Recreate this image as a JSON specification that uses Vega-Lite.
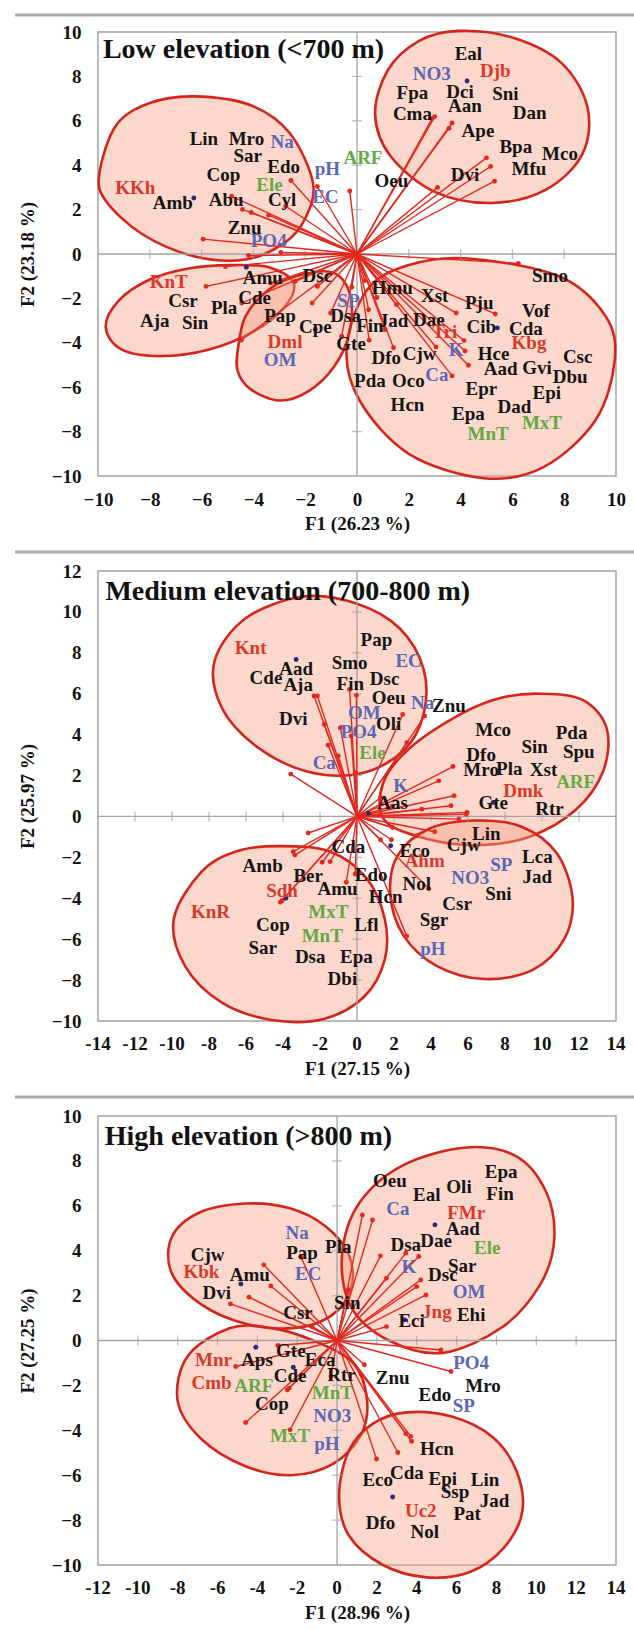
{
"$schema": "https://vega.github.io/schema/vega-lite/v6.json",
"padding": {"left": 12, "top": 12, "right": 0, "bottom": 0},
"background": "white",
"spacing": 95,
"bounds": "flush",
"resolve": {"scale": {"x": "independent", "y": "independent"}},
"config": {
 "view": {"stroke": "#a3a3a3", "strokeWidth": 1.5},
 "font": "Liberation Serif",
 "axis": {"labelOverlap": false, "labelFlush": false}
},
"datasets": {
 "tk": [{"v":-14},{"v":-12},{"v":-10},{"v":-8},{"v":-6},{"v":-4},{"v":-2},{"v":0},{"v":2},{"v":4},{"v":6},{"v":8},{"v":10},{"v":12},{"v":14}],
 "p1lab": [
  {"n":"Eal","x":4.3,"y":9.03,"t":"s"},{"n":"NO3","x":2.89,"y":8.13,"t":"b"},{"n":"Djb","x":5.34,"y":8.24,"t":"r"},
  {"n":"Fpa","x":2.14,"y":7.27,"t":"s"},{"n":"Dci","x":3.98,"y":7.3,"t":"s"},{"n":"Sni","x":5.73,"y":7.19,"t":"s"},
  {"n":"Aan","x":4.17,"y":6.67,"t":"s"},{"n":"Cma","x":2.14,"y":6.3,"t":"s"},{"n":"Dan","x":6.67,"y":6.37,"t":"s"},
  {"n":"Ape","x":4.67,"y":5.55,"t":"s"},{"n":"Bpa","x":6.13,"y":4.81,"t":"s"},{"n":"Mco","x":7.84,"y":4.51,"t":"s"},
  {"n":"Mfu","x":6.64,"y":3.81,"t":"s"},{"n":"Dvi","x":4.17,"y":3.54,"t":"s"},{"n":"Oeu","x":1.33,"y":3.27,"t":"s"},
  {"n":"Lin","x":-5.91,"y":5.18,"t":"s"},{"n":"Mro","x":-4.27,"y":5.18,"t":"s"},{"n":"Na","x":-2.89,"y":5.06,"t":"b"},
  {"n":"Sar","x":-4.22,"y":4.4,"t":"s"},{"n":"ARF","x":0.23,"y":4.31,"t":"g"},{"n":"Edo","x":-2.83,"y":3.91,"t":"s"},
  {"n":"pH","x":-1.14,"y":3.81,"t":"b"},{"n":"Cop","x":-5.16,"y":3.57,"t":"s"},{"n":"KKh","x":-8.56,"y":2.99,"t":"r"},
  {"n":"Ele","x":-3.38,"y":3.09,"t":"g"},{"n":"Amb","x":-7.11,"y":2.3,"t":"s"},{"n":"Abu","x":-5.05,"y":2.45,"t":"s"},
  {"n":"Cyl","x":-2.89,"y":2.45,"t":"s"},{"n":"EC","x":-1.22,"y":2.57,"t":"b"},{"n":"Znu","x":-4.34,"y":1.15,"t":"s"},
  {"n":"PO4","x":-3.41,"y":0.6,"t":"b"},{"n":"Smo","x":7.45,"y":-1.01,"t":"s"},{"n":"KnT","x":-7.27,"y":-1.24,"t":"r"},
  {"n":"Amu","x":-3.64,"y":-1.09,"t":"s"},{"n":"Dsc","x":-1.53,"y":-1.0,"t":"s"},{"n":"Hmu","x":1.36,"y":-1.51,"t":"s"},
  {"n":"Xst","x":3.0,"y":-1.87,"t":"s"},{"n":"Pju","x":4.72,"y":-2.21,"t":"s"},{"n":"Csr","x":-6.72,"y":-2.13,"t":"s"},
  {"n":"Pla","x":-5.13,"y":-2.43,"t":"s"},{"n":"Cde","x":-3.95,"y":-1.96,"t":"s"},{"n":"Aja","x":-7.81,"y":-3.03,"t":"s"},
  {"n":"Sin","x":-6.25,"y":-3.13,"t":"s"},{"n":"Pap","x":-2.97,"y":-2.81,"t":"s"},{"n":"Cpe","x":-1.61,"y":-3.3,"t":"s"},
  {"n":"SP","x":-0.33,"y":-2.1,"t":"b"},{"n":"Dsa","x":-0.44,"y":-2.81,"t":"s"},{"n":"Fin","x":0.5,"y":-3.25,"t":"s"},
  {"n":"Jad","x":1.41,"y":-3.03,"t":"s"},{"n":"Dae","x":2.77,"y":-2.96,"t":"s"},{"n":"Tri","x":3.39,"y":-3.51,"t":"r"},
  {"n":"Vof","x":6.91,"y":-2.55,"t":"s"},{"n":"Cib","x":4.8,"y":-3.3,"t":"s"},{"n":"Cda","x":6.52,"y":-3.36,"t":"s"},
  {"n":"Dml","x":-2.78,"y":-3.96,"t":"r"},{"n":"Kbg","x":6.64,"y":-4.0,"t":"r"},{"n":"Gte","x":-0.23,"y":-4.07,"t":"s"},
  {"n":"OM","x":-2.97,"y":-4.79,"t":"b"},{"n":"Dfo","x":1.13,"y":-4.7,"t":"s"},{"n":"Cjw","x":2.42,"y":-4.52,"t":"s"},
  {"n":"K","x":3.83,"y":-4.34,"t":"b"},{"n":"Hce","x":5.27,"y":-4.52,"t":"s"},{"n":"Csc","x":8.52,"y":-4.64,"t":"s"},
  {"n":"Aad","x":5.55,"y":-5.19,"t":"s"},{"n":"Gvi","x":6.95,"y":-5.12,"t":"s"},{"n":"Dbu","x":8.23,"y":-5.54,"t":"s"},
  {"n":"Ca","x":3.08,"y":-5.45,"t":"b"},{"n":"Pda","x":0.5,"y":-5.72,"t":"s"},{"n":"Oco","x":1.98,"y":-5.72,"t":"s"},
  {"n":"Epr","x":4.8,"y":-6.09,"t":"s"},{"n":"Epi","x":7.33,"y":-6.28,"t":"s"},{"n":"Hcn","x":1.95,"y":-6.79,"t":"s"},
  {"n":"Dad","x":6.08,"y":-6.87,"t":"s"},{"n":"Epa","x":4.3,"y":-7.21,"t":"s"},{"n":"MxT","x":7.14,"y":-7.63,"t":"g"},
  {"n":"MnT","x":5.06,"y":-8.1,"t":"g"}
 ],
 "p1vec": [
  {"x":3.0,"y":6.19},{"x":2.9,"y":6.1},{"x":3.67,"y":5.9},{"x":3.55,"y":5.66},{"x":5.0,"y":4.33},{"x":5.16,"y":3.94},
  {"x":5.31,"y":3.28},{"x":3.11,"y":3.0},{"x":-0.28,"y":2.84},{"x":-2.55,"y":3.31},{"x":-1.53,"y":3.04},{"x":-4.84,"y":2.6},
  {"x":-4.42,"y":2.01},{"x":-4.08,"y":1.87},{"x":-3.41,"y":1.75},{"x":-2.75,"y":2.15},{"x":-5.94,"y":0.67},{"x":-4.19,"y":-0.07},
  {"x":-2.94,"y":0.07},{"x":-5.83,"y":-1.46},{"x":-5.08,"y":-0.57},{"x":-4.47,"y":-3.88},{"x":-4.45,"y":-2.21},{"x":-3.33,"y":-1.31},
  {"x":-2.39,"y":-1.24},{"x":-1.53,"y":-1.46},{"x":-1.73,"y":-2.21},{"x":-1.02,"y":-2.66},{"x":-0.59,"y":-3.7},{"x":0.45,"y":-2.51},
  {"x":1.08,"y":-3.4},{"x":0.47,"y":-3.88},{"x":1.41,"y":-4.22},{"x":0.77,"y":-1.96},{"x":1.52,"y":-2.28},{"x":3.05,"y":-4.19},
  {"x":3.83,"y":-2.66},{"x":4.13,"y":-3.9},{"x":4.17,"y":-4.37},{"x":4.3,"y":-5.01},{"x":3.67,"y":-5.49},{"x":5.34,"y":-2.7},
  {"x":6.23,"y":-0.42},{"x":-0.2,"y":-1.5},{"x":0.3,"y":-1.2}
 ],
 "p1dot": [{"x":4.25,"y":7.79},{"x":-6.3,"y":2.52},{"x":-4.27,"y":-0.6},{"x":-1.61,"y":-3.4},{"x":5.42,"y":-3.33}],
 "p1ell": [
  {"e":1,"i":1,"x":3.9,"y":10.05},{"e":1,"i":2,"x":6.0,"y":9.75},{"e":1,"i":3,"x":7.9,"y":8.6},{"e":1,"i":4,"x":8.9,"y":6.6},
  {"e":1,"i":5,"x":8.7,"y":4.5},{"e":1,"i":6,"x":7.3,"y":2.9},{"e":1,"i":7,"x":5.2,"y":2.3},{"e":1,"i":8,"x":3.0,"y":2.8},
  {"e":1,"i":9,"x":1.3,"y":4.4},{"e":1,"i":10,"x":0.7,"y":6.3},{"e":1,"i":11,"x":1.2,"y":8.3},{"e":1,"i":12,"x":2.4,"y":9.6},
  {"e":2,"i":1,"x":-6.3,"y":7.1},{"e":2,"i":2,"x":-4.1,"y":6.7},{"e":2,"i":3,"x":-2.6,"y":5.45},{"e":2,"i":4,"x":-1.7,"y":3.2},
  {"e":2,"i":5,"x":-2.0,"y":1.6},{"e":2,"i":6,"x":-2.8,"y":0.5},{"e":2,"i":7,"x":-4.3,"y":-0.25},{"e":2,"i":8,"x":-6.3,"y":-0.1},
  {"e":2,"i":9,"x":-8.3,"y":0.9},{"e":2,"i":10,"x":-9.7,"y":2.4},{"e":2,"i":11,"x":-9.95,"y":3.6},{"e":2,"i":12,"x":-9.3,"y":5.8},
  {"e":2,"i":13,"x":-8.0,"y":6.8},
  {"e":3,"i":1,"x":-9.7,"y":-3.3},{"e":3,"i":2,"x":-9.2,"y":-2.1},{"e":3,"i":3,"x":-8.0,"y":-1.15},{"e":3,"i":4,"x":-6.5,"y":-0.65},
  {"e":3,"i":5,"x":-4.9,"y":-0.5},{"e":3,"i":6,"x":-3.4,"y":-0.6},{"e":3,"i":7,"x":-2.45,"y":-1.3},{"e":3,"i":8,"x":-2.8,"y":-2.4},
  {"e":3,"i":9,"x":-4.0,"y":-3.5},{"e":3,"i":10,"x":-5.7,"y":-4.3},{"e":3,"i":11,"x":-7.6,"y":-4.6},{"e":3,"i":12,"x":-9.1,"y":-4.3},
  {"e":4,"i":1,"x":-4.6,"y":-4.3},{"e":4,"i":2,"x":-4.3,"y":-2.8},{"e":4,"i":3,"x":-3.4,"y":-1.6},{"e":4,"i":4,"x":-2.2,"y":-0.95},
  {"e":4,"i":5,"x":-0.9,"y":-0.85},{"e":4,"i":6,"x":-0.25,"y":-1.9},{"e":4,"i":7,"x":-0.3,"y":-3.6},{"e":4,"i":8,"x":-0.9,"y":-5.1},
  {"e":4,"i":9,"x":-1.9,"y":-6.2},{"e":4,"i":10,"x":-3.0,"y":-6.6},{"e":4,"i":11,"x":-4.1,"y":-6.1},{"e":4,"i":12,"x":-4.6,"y":-5.3},
  {"e":5,"i":1,"x":4.3,"y":-0.2},{"e":5,"i":2,"x":7.8,"y":-1.0},{"e":5,"i":3,"x":9.6,"y":-2.8},{"e":5,"i":4,"x":9.95,"y":-4.8},
  {"e":5,"i":5,"x":9.2,"y":-7.5},{"e":5,"i":6,"x":7.2,"y":-9.6},{"e":5,"i":7,"x":4.9,"y":-10.1},{"e":5,"i":8,"x":2.0,"y":-9.0},
  {"e":5,"i":9,"x":0.1,"y":-6.6},{"e":5,"i":10,"x":-0.4,"y":-4.2},{"e":5,"i":11,"x":0.4,"y":-1.6},{"e":5,"i":12,"x":2.0,"y":-0.5}
 ],
 "p2lab": [
  {"n":"Knt","x":-5.75,"y":8.24,"t":"r"},{"n":"Pap","x":1.05,"y":8.65,"t":"s"},{"n":"Aad","x":-3.29,"y":7.22,"t":"s"},
  {"n":"Smo","x":-0.4,"y":7.51,"t":"s"},{"n":"EC","x":2.79,"y":7.59,"t":"b"},{"n":"Cde","x":-4.92,"y":6.78,"t":"s"},
  {"n":"Aja","x":-3.18,"y":6.41,"t":"s"},{"n":"Fin","x":-0.36,"y":6.46,"t":"s"},{"n":"Dsc","x":1.49,"y":6.7,"t":"s"},
  {"n":"Oeu","x":1.71,"y":5.8,"t":"s"},{"n":"Na","x":3.55,"y":5.56,"t":"b"},{"n":"Znu","x":4.97,"y":5.4,"t":"s"},
  {"n":"OM","x":0.4,"y":5.07,"t":"b"},{"n":"Dvi","x":-3.45,"y":4.75,"t":"s"},{"n":"Oli","x":1.71,"y":4.5,"t":"s"},
  {"n":"PO4","x":0.08,"y":4.13,"t":"b"},{"n":"Mco","x":7.36,"y":4.23,"t":"s"},{"n":"Pda","x":11.6,"y":4.07,"t":"s"},
  {"n":"Sin","x":9.6,"y":3.41,"t":"s"},{"n":"Spu","x":11.99,"y":3.15,"t":"s"},{"n":"Ele","x":0.84,"y":3.12,"t":"g"},
  {"n":"Dfo","x":6.71,"y":2.99,"t":"s"},{"n":"Ca","x":-1.77,"y":2.63,"t":"b"},{"n":"Mro","x":6.71,"y":2.26,"t":"s"},
  {"n":"Pla","x":8.23,"y":2.34,"t":"s"},{"n":"Xst","x":10.08,"y":2.28,"t":"s"},{"n":"ARF","x":11.82,"y":1.69,"t":"g"},
  {"n":"K","x":2.36,"y":1.5,"t":"b"},{"n":"Dmk","x":8.99,"y":1.25,"t":"r"},{"n":"Aas","x":1.92,"y":0.68,"t":"s"},
  {"n":"Gte","x":7.36,"y":0.68,"t":"s"},{"n":"Rtr","x":10.4,"y":0.36,"t":"s"},
  {"n":"Lin","x":6.99,"y":-0.86,"t":"s"},{"n":"Cjw","x":5.77,"y":-1.4,"t":"s"},{"n":"Cda","x":-0.47,"y":-1.51,"t":"s"},
  {"n":"Eco","x":3.12,"y":-1.67,"t":"s"},{"n":"Lca","x":9.75,"y":-2.0,"t":"s"},{"n":"Amb","x":-5.1,"y":-2.44,"t":"s"},
  {"n":"Ahm","x":3.66,"y":-2.16,"t":"r"},{"n":"SP","x":7.8,"y":-2.37,"t":"b"},{"n":"Jad","x":9.75,"y":-2.94,"t":"s"},
  {"n":"Ber","x":-2.64,"y":-2.89,"t":"s"},{"n":"Edo","x":0.77,"y":-2.86,"t":"s"},{"n":"NO3","x":6.12,"y":-3.02,"t":"b"},
  {"n":"Nol","x":3.23,"y":-3.3,"t":"s"},{"n":"Sdh","x":-4.05,"y":-3.63,"t":"r"},{"n":"Amu","x":-1.05,"y":-3.54,"t":"s"},
  {"n":"Sni","x":7.64,"y":-3.79,"t":"s"},{"n":"Hcn","x":1.55,"y":-3.95,"t":"s"},{"n":"KnR","x":-7.92,"y":-4.68,"t":"r"},
  {"n":"MxT","x":-1.55,"y":-4.65,"t":"g"},{"n":"Csr","x":5.41,"y":-4.28,"t":"s"},{"n":"Cop","x":-4.55,"y":-5.3,"t":"s"},
  {"n":"Lfl","x":0.51,"y":-5.33,"t":"s"},{"n":"Sgr","x":4.16,"y":-5.04,"t":"s"},{"n":"MnT","x":-1.88,"y":-5.85,"t":"g"},
  {"n":"Sar","x":-5.1,"y":-6.44,"t":"s"},{"n":"pH","x":4.1,"y":-6.47,"t":"b"},{"n":"Dsa","x":-2.53,"y":-6.88,"t":"s"},
  {"n":"Epa","x":-0.03,"y":-6.88,"t":"s"},{"n":"Dbi","x":-0.79,"y":-7.97,"t":"s"}
 ],
 "p2vec": [
  {"x":-2.32,"y":5.89},{"x":-2.14,"y":5.89},{"x":-0.4,"y":6.21},{"x":-0.03,"y":5.92},{"x":2.47,"y":4.99},{"x":3.66,"y":4.91},
  {"x":-1.77,"y":4.5},{"x":-1.56,"y":3.48},{"x":-1.01,"y":2.96},{"x":-0.9,"y":4.34},{"x":-0.32,"y":3.93},{"x":-3.58,"y":2.07},
  {"x":-0.1,"y":2.15},{"x":2.69,"y":3.61},{"x":5.19,"y":2.44},{"x":4.42,"y":1.74},{"x":5.25,"y":1.01},{"x":1.27,"y":0.93},
  {"x":5.08,"y":0.52},{"x":5.95,"y":0.2},{"x":1.9,"y":0.5},{"x":3.5,"y":0.35},
  {"x":-2.64,"y":-0.81},{"x":-3.45,"y":-1.72},{"x":-3.36,"y":-1.89},{"x":-1.88,"y":-2.24},{"x":-1.45,"y":-2.21},{"x":-0.58,"y":-3.22},
  {"x":-4.05,"y":-4.11},{"x":-4.15,"y":-4.2},{"x":-0.1,"y":-2.81},{"x":1.92,"y":-0.54},{"x":1.27,"y":-1.14},{"x":1.86,"y":-1.14},
  {"x":4.2,"y":-0.75},{"x":3.23,"y":-0.94},{"x":3.88,"y":-3.54},{"x":2.69,"y":-5.85},{"x":5.51,"y":-0.13},{"x":5.9,"y":0.11}
 ],
 "p2dot": [{"x":-3.29,"y":7.67},{"x":0.62,"y":0.16},{"x":7.36,"y":0.68},{"x":1.82,"y":-1.43},{"x":-3.84,"y":-4.0}],
 "p2ell": [
  {"e":1,"i":1,"x":-2.9,"y":10.75},{"e":1,"i":2,"x":0.0,"y":10.4},{"e":1,"i":3,"x":2.3,"y":9.2},{"e":1,"i":4,"x":3.6,"y":7.2},
  {"e":1,"i":5,"x":3.6,"y":5.0},{"e":1,"i":6,"x":2.5,"y":3.2},{"e":1,"i":7,"x":0.2,"y":2.1},{"e":1,"i":8,"x":-2.7,"y":2.2},
  {"e":1,"i":9,"x":-5.4,"y":3.4},{"e":1,"i":10,"x":-7.3,"y":5.3},{"e":1,"i":11,"x":-7.7,"y":7.6},{"e":1,"i":12,"x":-6.0,"y":9.7},
  {"e":2,"i":1,"x":9.9,"y":6.0},{"e":2,"i":2,"x":12.2,"y":5.7},{"e":2,"i":3,"x":13.5,"y":4.3},{"e":2,"i":4,"x":13.3,"y":2.2},
  {"e":2,"i":5,"x":11.8,"y":0.3},{"e":2,"i":6,"x":9.3,"y":-1.0},{"e":2,"i":7,"x":6.5,"y":-1.4},{"e":2,"i":8,"x":3.8,"y":-1.1},
  {"e":2,"i":9,"x":1.5,"y":-0.2},{"e":2,"i":10,"x":1.4,"y":1.6},{"e":2,"i":11,"x":2.8,"y":3.3},{"e":2,"i":12,"x":5.6,"y":5.0},
  {"e":2,"i":13,"x":7.8,"y":5.8},
  {"e":3,"i":1,"x":6.4,"y":-0.2},{"e":3,"i":2,"x":8.9,"y":-0.5},{"e":3,"i":3,"x":10.8,"y":-1.8},{"e":3,"i":4,"x":11.65,"y":-4.0},
  {"e":3,"i":5,"x":11.2,"y":-6.0},{"e":3,"i":6,"x":9.5,"y":-7.5},{"e":3,"i":7,"x":6.9,"y":-7.95},{"e":3,"i":8,"x":4.3,"y":-7.3},
  {"e":3,"i":9,"x":2.5,"y":-5.8},{"e":3,"i":10,"x":1.8,"y":-3.8},{"e":3,"i":11,"x":2.2,"y":-1.9},{"e":3,"i":12,"x":3.9,"y":-0.6},
  {"e":4,"i":1,"x":-4.2,"y":-1.45},{"e":4,"i":2,"x":-1.5,"y":-1.7},{"e":4,"i":3,"x":0.5,"y":-3.0},{"e":4,"i":4,"x":1.5,"y":-5.0},
  {"e":4,"i":5,"x":1.5,"y":-7.0},{"e":4,"i":6,"x":0.4,"y":-8.8},{"e":4,"i":7,"x":-1.8,"y":-9.9},{"e":4,"i":8,"x":-4.6,"y":-9.95},
  {"e":4,"i":9,"x":-7.3,"y":-9.1},{"e":4,"i":10,"x":-9.3,"y":-7.3},{"e":4,"i":11,"x":-9.9,"y":-5.0},{"e":4,"i":12,"x":-8.4,"y":-2.7},
  {"e":4,"i":13,"x":-6.5,"y":-1.7}
 ],
 "p3lab": [
  {"n":"Epa","x":8.24,"y":7.52,"t":"s"},{"n":"Oeu","x":2.65,"y":7.12,"t":"s"},{"n":"Eal","x":4.5,"y":6.48,"t":"s"},
  {"n":"Oli","x":6.12,"y":6.85,"t":"s"},{"n":"Fin","x":8.18,"y":6.53,"t":"s"},{"n":"Ca","x":3.05,"y":5.85,"t":"b"},
  {"n":"FMr","x":6.48,"y":5.7,"t":"r"},{"n":"Aad","x":6.32,"y":4.96,"t":"s"},{"n":"Na","x":-2.0,"y":4.81,"t":"b"},
  {"n":"Pla","x":0.06,"y":4.15,"t":"s"},{"n":"Pap","x":-1.76,"y":3.89,"t":"s"},{"n":"Dsa","x":3.45,"y":4.26,"t":"s"},
  {"n":"Dae","x":4.97,"y":4.41,"t":"s"},{"n":"Ele","x":7.54,"y":4.11,"t":"g"},{"n":"Cjw","x":-6.5,"y":3.81,"t":"s"},
  {"n":"Kbk","x":-6.81,"y":3.03,"t":"r"},{"n":"Amu","x":-4.38,"y":2.92,"t":"s"},{"n":"EC","x":-1.45,"y":2.97,"t":"b"},
  {"n":"K","x":3.6,"y":3.29,"t":"b"},{"n":"Sar","x":6.28,"y":3.32,"t":"s"},{"n":"Dsc","x":5.31,"y":2.92,"t":"s"},
  {"n":"Dvi","x":-6.04,"y":2.11,"t":"s"},{"n":"OM","x":6.63,"y":2.14,"t":"b"},{"n":"Sin","x":0.51,"y":1.66,"t":"s"},
  {"n":"Csr","x":-1.96,"y":1.22,"t":"s"},{"n":"Jng","x":5.01,"y":1.29,"t":"r"},{"n":"Ehi","x":6.73,"y":1.14,"t":"s"},
  {"n":"Eci","x":3.74,"y":0.89,"t":"s"},{"n":"Mnr","x":-6.2,"y":-0.86,"t":"r"},{"n":"Aps","x":-4.02,"y":-0.86,"t":"s"},
  {"n":"Gte","x":-2.32,"y":-0.45,"t":"s"},{"n":"Eca","x":-0.85,"y":-0.86,"t":"s"},{"n":"PO4","x":6.73,"y":-0.98,"t":"b"},
  {"n":"Cde","x":-2.36,"y":-1.57,"t":"s"},{"n":"Rtr","x":0.22,"y":-1.53,"t":"s"},{"n":"Znu","x":2.79,"y":-1.68,"t":"s"},
  {"n":"Cmb","x":-6.3,"y":-1.9,"t":"r"},{"n":"ARF","x":-4.18,"y":-2.02,"t":"g"},{"n":"Mro","x":7.33,"y":-2.02,"t":"s"},
  {"n":"MnT","x":-0.24,"y":-2.34,"t":"g"},{"n":"Edo","x":4.91,"y":-2.42,"t":"s"},{"n":"Cop","x":-3.27,"y":-2.82,"t":"s"},
  {"n":"SP","x":6.36,"y":-2.91,"t":"b"},{"n":"NO3","x":-0.24,"y":-3.35,"t":"b"},{"n":"MxT","x":-2.36,"y":-4.24,"t":"g"},
  {"n":"pH","x":-0.51,"y":-4.6,"t":"b"},{"n":"Hcn","x":5.01,"y":-4.84,"t":"s"},{"n":"Eco","x":2.04,"y":-6.2,"t":"s"},
  {"n":"Cda","x":3.5,"y":-5.9,"t":"s"},{"n":"Epi","x":5.31,"y":-6.17,"t":"s"},{"n":"Lin","x":7.43,"y":-6.23,"t":"s"},
  {"n":"Ssp","x":5.92,"y":-6.77,"t":"s"},{"n":"Jad","x":7.9,"y":-7.17,"t":"s"},{"n":"Uc2","x":4.2,"y":-7.61,"t":"r"},
  {"n":"Pat","x":6.53,"y":-7.71,"t":"s"},{"n":"Dfo","x":2.18,"y":-8.13,"t":"s"},{"n":"Nol","x":4.4,"y":-8.55,"t":"s"}
 ],
 "p3vec": [
  {"x":1.27,"y":5.59},{"x":1.78,"y":5.37},{"x":2.18,"y":3.77},{"x":2.48,"y":2.77},{"x":3.45,"y":3.89},{"x":4.1,"y":3.74},
  {"x":4.2,"y":2.7},{"x":4.0,"y":2.4},{"x":4.46,"y":2.03},{"x":2.48,"y":0.62},{"x":5.21,"y":-0.42},{"x":5.72,"y":-1.38},
  {"x":-1.8,"y":3.71},{"x":-3.68,"y":3.37},{"x":-3.33,"y":2.43},{"x":-4.42,"y":1.93},{"x":-5.35,"y":1.63},{"x":-1.25,"y":0.62},
  {"x":-2.97,"y":-0.22},{"x":-5.09,"y":-1.16},{"x":1.37,"y":-1.08},{"x":-2.4,"y":-2.12},{"x":-2.5,"y":-2.2},{"x":-4.59,"y":-3.65},
  {"x":-2.36,"y":-3.98},{"x":3.45,"y":-4.15},{"x":3.7,"y":-4.27},{"x":3.74,"y":-4.49},{"x":3.05,"y":-4.99},{"x":1.98,"y":-5.28},
  {"x":0.57,"y":2.26},{"x":-0.3,"y":-1.6}
 ],
 "p3dot": [{"x":-4.83,"y":2.52},{"x":4.91,"y":5.15},{"x":3.39,"y":0.92},{"x":-4.08,"y":-0.3},{"x":-2.2,"y":-1.19},{"x":2.79,"y":-6.97}],
 "p3ell": [
  {"e":1,"i":1,"x":-4.6,"y":6.1},{"e":1,"i":2,"x":-2.4,"y":5.9},{"e":1,"i":3,"x":-0.6,"y":5.1},{"e":1,"i":4,"x":0.6,"y":3.8},
  {"e":1,"i":5,"x":0.7,"y":2.3},{"e":1,"i":6,"x":-0.3,"y":1.1},{"e":1,"i":7,"x":-2.2,"y":0.55},{"e":1,"i":8,"x":-4.6,"y":0.75},
  {"e":1,"i":9,"x":-6.8,"y":1.6},{"e":1,"i":10,"x":-8.3,"y":3.0},{"e":1,"i":11,"x":-8.3,"y":4.6},{"e":1,"i":12,"x":-6.9,"y":5.7},
  {"e":2,"i":1,"x":6.5,"y":8.6},{"e":2,"i":2,"x":9.0,"y":8.2},{"e":2,"i":3,"x":10.5,"y":6.6},{"e":2,"i":4,"x":10.9,"y":4.5},
  {"e":2,"i":5,"x":10.2,"y":2.5},{"e":2,"i":6,"x":8.3,"y":0.6},{"e":2,"i":7,"x":5.3,"y":-0.55},{"e":2,"i":8,"x":2.6,"y":0.0},
  {"e":2,"i":9,"x":0.7,"y":1.5},{"e":2,"i":10,"x":0.25,"y":3.8},{"e":2,"i":11,"x":1.1,"y":6.1},{"e":2,"i":12,"x":3.3,"y":7.8},
  {"e":3,"i":1,"x":-5.4,"y":0.55},{"e":3,"i":2,"x":-3.3,"y":0.55},{"e":3,"i":3,"x":-1.2,"y":0.0},{"e":3,"i":4,"x":0.8,"y":-1.0},
  {"e":3,"i":5,"x":1.5,"y":-2.6},{"e":3,"i":6,"x":1.2,"y":-4.2},{"e":3,"i":7,"x":-0.2,"y":-5.5},{"e":3,"i":8,"x":-2.3,"y":-6.0},
  {"e":3,"i":9,"x":-4.6,"y":-5.6},{"e":3,"i":10,"x":-6.8,"y":-4.4},{"e":3,"i":11,"x":-8.0,"y":-2.7},{"e":3,"i":12,"x":-7.5,"y":-0.7},
  {"e":4,"i":1,"x":3.5,"y":-3.2},{"e":4,"i":2,"x":5.8,"y":-3.4},{"e":4,"i":3,"x":7.8,"y":-4.3},{"e":4,"i":4,"x":9.0,"y":-5.8},
  {"e":4,"i":5,"x":9.3,"y":-7.6},{"e":4,"i":6,"x":8.4,"y":-9.2},{"e":4,"i":7,"x":6.7,"y":-10.3},{"e":4,"i":8,"x":4.5,"y":-10.55},
  {"e":4,"i":9,"x":2.3,"y":-10.0},{"e":4,"i":10,"x":0.6,"y":-8.7},{"e":4,"i":11,"x":0.1,"y":-6.9},{"e":4,"i":12,"x":0.6,"y":-4.9},
  {"e":4,"i":13,"x":1.8,"y":-3.7}
 ]
},
"vconcat": [
 {
  "width": 518, "height": 444,
  "layer": [
   {"data": {"name": "p1ell"}, "mark": {"type": "line", "interpolate": "cardinal-closed", "fill": "#f5a284", "fillOpacity": 0.42, "stroke": "#d4251c", "strokeWidth": 2.6, "clip": false},
    "encoding": {"x": {"field": "x", "type": "quantitative", "scale": {"domain": [-10, 10], "nice": false, "zero": false}, "axis": {"title": "F1 (26.23 %)", "values": [-10,-8,-6,-4,-2,0,2,4,6,8,10], "grid": false, "domain": false, "ticks": false, "tickSize": 0, "labelFont": "Liberation Serif", "labelFontWeight": "bold", "labelFontSize": 19, "labelColor": "#111111", "titleFont": "Liberation Serif", "titleFontWeight": "bold", "titleFontSize": 19, "titleColor": "#111111", "labelOverlap": false, "labelFlush": false, "labelPadding": 14, "titlePadding": 5}},
     "y": {"field": "y", "type": "quantitative", "scale": {"domain": [-10, 10], "nice": false, "zero": false}, "axis": {"title": "F2 (23.18 %)", "values": [-10,-8,-6,-4,-2,0,2,4,6,8,10], "grid": false, "domain": false, "ticks": false, "tickSize": 0, "labelFont": "Liberation Serif", "labelFontWeight": "bold", "labelFontSize": 19, "labelColor": "#111111", "titleFont": "Liberation Serif", "titleFontWeight": "bold", "titleFontSize": 19, "titleColor": "#111111", "labelOverlap": false, "labelFlush": false, "labelPadding": 17, "titlePadding": 14}},
     "detail": {"field": "e"}, "order": {"field": "i"}}},
   {"data": {"values": [{}]}, "mark": {"type": "rule", "color": "#a3a3a3", "strokeWidth": 1.3},
    "encoding": {"x": {"datum": 0, "type": "quantitative"}}},
   {"data": {"values": [{}]}, "mark": {"type": "rule", "color": "#a3a3a3", "strokeWidth": 1.3},
    "encoding": {"y": {"datum": 0, "type": "quantitative"}}},
   {"data": {"name": "tk"}, "transform": [{"filter": "datum.v != 0 && abs(datum.v) <= 8"}], "mark": {"type": "tick", "orient": "vertical", "color": "#a3a3a3", "size": 10, "thickness": 1.3},
    "encoding": {"x": {"field": "v", "type": "quantitative"}, "y": {"datum": 0, "type": "quantitative"}}},
   {"data": {"name": "tk"}, "transform": [{"filter": "datum.v != 0 && abs(datum.v) <= 8"}], "mark": {"type": "tick", "orient": "horizontal", "color": "#a3a3a3", "size": 10, "thickness": 1.3},
    "encoding": {"y": {"field": "v", "type": "quantitative"}, "x": {"datum": 0, "type": "quantitative"}}},
   {"data": {"name": "p1vec"}, "mark": {"type": "rule", "color": "#e2291f", "strokeWidth": 1.4},
    "encoding": {"x": {"field": "x", "type": "quantitative"}, "y": {"field": "y", "type": "quantitative"}, "x2": {"datum": 0}, "y2": {"datum": 0}}},
   {"data": {"name": "p1vec"}, "mark": {"type": "point", "filled": true, "color": "#e2291f", "size": 24, "opacity": 1},
    "encoding": {"x": {"field": "x", "type": "quantitative"}, "y": {"field": "y", "type": "quantitative"}}},
   {"data": {"name": "p1dot"}, "mark": {"type": "point", "filled": true, "color": "#2b2a78", "size": 24, "opacity": 1},
    "encoding": {"x": {"field": "x", "type": "quantitative"}, "y": {"field": "y", "type": "quantitative"}}},
   {"data": {"name": "p1lab"}, "mark": {"type": "text", "font": "Liberation Serif", "fontWeight": "bold", "fontSize": 19, "clip": false},
    "encoding": {"x": {"field": "x", "type": "quantitative"},
     "y": {"field": "y", "type": "quantitative"},
     "text": {"field": "n"},
     "color": {"field": "t", "type": "nominal", "scale": {"domain": ["s","b","g","r"], "range": ["#151515","#5a67b5","#64a846","#d8382b"]}, "legend": null}}},
   {"data": {"values": [{}]}, "mark": {"type": "text", "align": "left", "baseline": "middle", "font": "Liberation Serif", "fontWeight": "bold", "fontSize": 28, "color": "#111111"},
    "encoding": {"x": {"datum": -9.81, "type": "quantitative"}, "y": {"datum": 9.2, "type": "quantitative"}, "text": {"value": "Low elevation (<700 m)"}}},
   {"data": {"values": [{}]}, "mark": {"type": "rule", "color": "#a8a8a8", "strokeWidth": 3, "clip": false},
    "encoding": {"x": {"datum": -13.2, "type": "quantitative"}, "x2": {"datum": 10.81}, "y": {"datum": 10.77, "type": "quantitative"}}},
   {"data": {"values": [{}]}, "mark": {"type": "rule", "color": "#a8a8a8", "strokeWidth": 3, "clip": false},
    "encoding": {"x": {"datum": -13.2, "type": "quantitative"}, "x2": {"datum": 10.81}, "y": {"datum": -13.42, "type": "quantitative"}}}
  ]
 },
 {
  "width": 518, "height": 450,
  "layer": [
   {"data": {"name": "p2ell"}, "mark": {"type": "line", "interpolate": "cardinal-closed", "fill": "#f5a284", "fillOpacity": 0.42, "stroke": "#d4251c", "strokeWidth": 2.6, "clip": false},
    "encoding": {"x": {"field": "x", "type": "quantitative", "scale": {"domain": [-14, 14], "nice": false, "zero": false}, "axis": {"title": "F1 (27.15 %)", "labels": false, "grid": false, "domain": false, "ticks": false, "tickSize": 0, "titleFont": "Liberation Serif", "titleFontWeight": "bold", "titleFontSize": 19, "titleColor": "#111111", "titlePadding": 38}},
     "y": {"field": "y", "type": "quantitative", "scale": {"domain": [-10, 12], "nice": false, "zero": false}, "axis": {"title": "F2 (25.97 %)", "values": [-10,-8,-6,-4,-2,0,2,4,6,8,10,12], "grid": false, "domain": false, "ticks": false, "tickSize": 0, "labelFont": "Liberation Serif", "labelFontWeight": "bold", "labelFontSize": 19, "labelColor": "#111111", "titleFont": "Liberation Serif", "titleFontWeight": "bold", "titleFontSize": 19, "titleColor": "#111111", "labelOverlap": false, "labelFlush": false, "labelPadding": 17, "titlePadding": 14}},
     "detail": {"field": "e"}, "order": {"field": "i"}}},
   {"data": {"name": "tk"}, "mark": {"type": "text", "baseline": "top", "dy": 14, "font": "Liberation Serif", "fontWeight": "bold", "fontSize": 19, "color": "#111111", "clip": false},
    "encoding": {"x": {"field": "v", "type": "quantitative"}, "y": {"datum": -10, "type": "quantitative"}, "text": {"field": "v", "type": "nominal"}}},
   {"data": {"values": [{}]}, "mark": {"type": "rule", "color": "#a3a3a3", "strokeWidth": 1.3},
    "encoding": {"x": {"datum": 0, "type": "quantitative"}}},
   {"data": {"values": [{}]}, "mark": {"type": "rule", "color": "#a3a3a3", "strokeWidth": 1.3},
    "encoding": {"y": {"datum": 0, "type": "quantitative"}}},
   {"data": {"name": "tk"}, "transform": [{"filter": "datum.v != 0 && abs(datum.v) <= 12"}], "mark": {"type": "tick", "orient": "vertical", "color": "#a3a3a3", "size": 10, "thickness": 1.3},
    "encoding": {"x": {"field": "v", "type": "quantitative"}, "y": {"datum": 0, "type": "quantitative"}}},
   {"data": {"name": "tk"}, "transform": [{"filter": "datum.v != 0 && datum.v >= -8 && datum.v <= 10"}], "mark": {"type": "tick", "orient": "horizontal", "color": "#a3a3a3", "size": 10, "thickness": 1.3},
    "encoding": {"y": {"field": "v", "type": "quantitative"}, "x": {"datum": 0, "type": "quantitative"}}},
   {"data": {"name": "p2vec"}, "mark": {"type": "rule", "color": "#e2291f", "strokeWidth": 1.4},
    "encoding": {"x": {"field": "x", "type": "quantitative"}, "y": {"field": "y", "type": "quantitative"}, "x2": {"datum": 0}, "y2": {"datum": 0}}},
   {"data": {"name": "p2vec"}, "mark": {"type": "point", "filled": true, "color": "#e2291f", "size": 24, "opacity": 1},
    "encoding": {"x": {"field": "x", "type": "quantitative"}, "y": {"field": "y", "type": "quantitative"}}},
   {"data": {"name": "p2dot"}, "mark": {"type": "point", "filled": true, "color": "#2b2a78", "size": 24, "opacity": 1},
    "encoding": {"x": {"field": "x", "type": "quantitative"}, "y": {"field": "y", "type": "quantitative"}}},
   {"data": {"name": "p2lab"}, "mark": {"type": "text", "font": "Liberation Serif", "fontWeight": "bold", "fontSize": 19, "clip": false},
    "encoding": {"x": {"field": "x", "type": "quantitative"},
     "y": {"field": "y", "type": "quantitative"},
     "text": {"field": "n"},
     "color": {"field": "t", "type": "nominal", "scale": {"domain": ["s","b","g","r"], "range": ["#151515","#5a67b5","#64a846","#d8382b"]}, "legend": null}}},
   {"data": {"values": [{}]}, "mark": {"type": "text", "align": "left", "baseline": "middle", "font": "Liberation Serif", "fontWeight": "bold", "fontSize": 28, "color": "#111111"},
    "encoding": {"x": {"datum": -13.6, "type": "quantitative"}, "y": {"datum": 10.96, "type": "quantitative"}, "text": {"value": "Medium elevation (700-800 m)"}}}
  ]
 },
 {
  "width": 518, "height": 449,
  "layer": [
   {"data": {"name": "p3ell"}, "mark": {"type": "line", "interpolate": "cardinal-closed", "fill": "#f5a284", "fillOpacity": 0.42, "stroke": "#d4251c", "strokeWidth": 2.6, "clip": false},
    "encoding": {"x": {"field": "x", "type": "quantitative", "scale": {"domain": [-12, 14], "nice": false, "zero": false}, "axis": {"title": "F1 (28.96 %)", "labels": false, "grid": false, "domain": false, "ticks": false, "tickSize": 0, "titleFont": "Liberation Serif", "titleFontWeight": "bold", "titleFontSize": 19, "titleColor": "#111111", "titlePadding": 38}},
     "y": {"field": "y", "type": "quantitative", "scale": {"domain": [-10, 10], "nice": false, "zero": false}, "axis": {"title": "F2 (27.25 %)", "values": [-10,-8,-6,-4,-2,0,2,4,6,8,10], "grid": false, "domain": false, "ticks": false, "tickSize": 0, "labelFont": "Liberation Serif", "labelFontWeight": "bold", "labelFontSize": 19, "labelColor": "#111111", "titleFont": "Liberation Serif", "titleFontWeight": "bold", "titleFontSize": 19, "titleColor": "#111111", "labelOverlap": false, "labelFlush": false, "labelPadding": 17, "titlePadding": 14}},
     "detail": {"field": "e"}, "order": {"field": "i"}}},
   {"data": {"name": "tk"}, "transform": [{"filter": "datum.v >= -12"}], "mark": {"type": "text", "baseline": "top", "dy": 14, "font": "Liberation Serif", "fontWeight": "bold", "fontSize": 19, "color": "#111111", "clip": false},
    "encoding": {"x": {"field": "v", "type": "quantitative"}, "y": {"datum": -10, "type": "quantitative"}, "text": {"field": "v", "type": "nominal"}}},
   {"data": {"values": [{}]}, "mark": {"type": "rule", "color": "#a3a3a3", "strokeWidth": 1.3},
    "encoding": {"x": {"datum": 0, "type": "quantitative"}}},
   {"data": {"values": [{}]}, "mark": {"type": "rule", "color": "#a3a3a3", "strokeWidth": 1.3},
    "encoding": {"y": {"datum": 0, "type": "quantitative"}}},
   {"data": {"name": "tk"}, "transform": [{"filter": "datum.v != 0 && datum.v >= -10 && datum.v <= 12"}], "mark": {"type": "tick", "orient": "vertical", "color": "#a3a3a3", "size": 10, "thickness": 1.3},
    "encoding": {"x": {"field": "v", "type": "quantitative"}, "y": {"datum": 0, "type": "quantitative"}}},
   {"data": {"name": "tk"}, "transform": [{"filter": "datum.v != 0 && abs(datum.v) <= 8"}], "mark": {"type": "tick", "orient": "horizontal", "color": "#a3a3a3", "size": 10, "thickness": 1.3},
    "encoding": {"y": {"field": "v", "type": "quantitative"}, "x": {"datum": 0, "type": "quantitative"}}},
   {"data": {"name": "p3vec"}, "mark": {"type": "rule", "color": "#e2291f", "strokeWidth": 1.4},
    "encoding": {"x": {"field": "x", "type": "quantitative"}, "y": {"field": "y", "type": "quantitative"}, "x2": {"datum": 0}, "y2": {"datum": 0}}},
   {"data": {"name": "p3vec"}, "mark": {"type": "point", "filled": true, "color": "#e2291f", "size": 24, "opacity": 1},
    "encoding": {"x": {"field": "x", "type": "quantitative"}, "y": {"field": "y", "type": "quantitative"}}},
   {"data": {"name": "p3dot"}, "mark": {"type": "point", "filled": true, "color": "#2b2a78", "size": 24, "opacity": 1},
    "encoding": {"x": {"field": "x", "type": "quantitative"}, "y": {"field": "y", "type": "quantitative"}}},
   {"data": {"name": "p3lab"}, "mark": {"type": "text", "font": "Liberation Serif", "fontWeight": "bold", "fontSize": 19, "clip": false},
    "encoding": {"x": {"field": "x", "type": "quantitative"},
     "y": {"field": "y", "type": "quantitative"},
     "text": {"field": "n"},
     "color": {"field": "t", "type": "nominal", "scale": {"domain": ["s","b","g","r"], "range": ["#151515","#5a67b5","#64a846","#d8382b"]}, "legend": null}}},
   {"data": {"values": [{}]}, "mark": {"type": "text", "align": "left", "baseline": "middle", "font": "Liberation Serif", "fontWeight": "bold", "fontSize": 28, "color": "#111111"},
    "encoding": {"x": {"datum": -11.66, "type": "quantitative"}, "y": {"datum": 9.08, "type": "quantitative"}, "text": {"value": "High elevation (>800 m)"}}},
   {"data": {"values": [{}]}, "mark": {"type": "rule", "color": "#a8a8a8", "strokeWidth": 3, "clip": false},
    "encoding": {"x": {"datum": -16.17, "type": "quantitative"}, "x2": {"datum": 15.05}, "y": {"datum": 10.85, "type": "quantitative"}}}
  ]
 }
]
}
